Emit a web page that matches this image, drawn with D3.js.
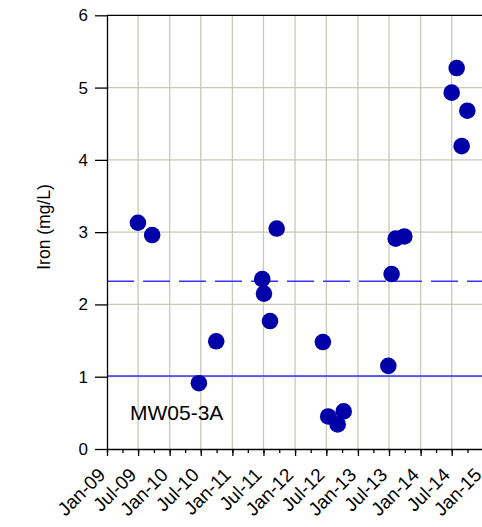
<!DOCTYPE html>
<html lang="en">
<head>
<meta charset="utf-8">
<title>MW05-3A Iron</title>
<script src="https://d3js.org/d3.v7.min.js"></script>
<style>
  body { margin: 0; background: #fff; }
  svg { font-family: "Liberation Sans", Arial, sans-serif; }
</style>
</head>
<body>
<div id="chart"></div>
<script>
// sample dates and iron concentrations (mg/L)
var sampleDates = ["2009-06-30", "2009-09-21", "2010-06-20", "2010-09-29",
  "2011-06-24", "2011-07-04", "2011-08-08", "2011-09-16", "2012-06-11",
  "2012-07-12", "2012-09-05", "2012-10-10", "2013-06-27", "2013-07-16",
  "2013-08-09", "2013-09-28", "2014-07-01", "2014-07-30", "2014-08-28",
  "2014-09-30"];
var ironValues = [3.13, 2.96, 0.91, 1.49,
  2.35, 2.15, 1.77, 3.05, 1.48,
  0.45, 0.34, 0.52, 1.15, 2.42,
  2.91, 2.94, 4.93, 5.27, 4.19,
  4.68];
var yTicks = [0, 1, 2, 3, 4, 5, 6];
var dashedLevel = 2.32;
var solidLevel = 1.01;
var wellName = "MW05-3A";

var W = 482, H = 527;
var plotLeft = 107, plotTop = 15.3, plotBottom = 449, plotRight = 483.3;

var parse = d3.timeParse("%Y-%m-%d");
var data = sampleDates.map(function(d, i) {
  return { date: parse(d), value: ironValues[i] };
});

var svg = d3.select("#chart").append("svg")
  .attr("width", W).attr("height", H);

var x = d3.scaleTime()
  .domain([new Date(2009, 0, 1), new Date(2015, 0, 1)])
  .range([plotLeft, plotRight]);
var y = d3.scaleLinear().domain([0, 6]).range([plotBottom, plotTop]);

var halfYears = d3.timeMonth.every(6).range(new Date(2009, 0, 1), new Date(2015, 0, 2));
var quarters = d3.timeMonth.every(3).range(new Date(2009, 0, 1), new Date(2015, 0, 2));

// grid
svg.append("g").selectAll("line")
  .data(halfYears.slice(1))
  .join("line")
  .attr("x1", function(d) { return x(d); }).attr("x2", function(d) { return x(d); })
  .attr("y1", plotTop).attr("y2", plotBottom)
  .attr("stroke", "#c8c8bd").attr("stroke-width", 1.3);
svg.append("g").selectAll("line")
  .data(yTicks.slice(1, -1))
  .join("line")
  .attr("x1", plotLeft).attr("x2", plotRight)
  .attr("y1", function(d) { return y(d); }).attr("y2", function(d) { return y(d); })
  .attr("stroke", "#c8c8bd").attr("stroke-width", 1.3);

// reference lines
svg.append("line")
  .attr("x1", plotLeft).attr("x2", plotRight)
  .attr("y1", y(dashedLevel)).attr("y2", y(dashedLevel))
  .attr("stroke", "#3535ff").attr("stroke-width", 1.5)
  .attr("stroke-dasharray", "27,9");
svg.append("line")
  .attr("x1", plotLeft).attr("x2", plotRight)
  .attr("y1", y(solidLevel)).attr("y2", y(solidLevel))
  .attr("stroke", "#3535ff").attr("stroke-width", 1.5);

// top frame
svg.append("line")
  .attr("x1", plotLeft).attr("x2", plotRight)
  .attr("y1", y(6)).attr("y2", y(6))
  .attr("stroke", "#000").attr("stroke-width", 1.3);

// y axis
var yAxis = svg.append("g")
  .attr("transform", "translate(" + plotLeft + ",0)")
  .call(d3.axisLeft(y).tickValues(yTicks).tickFormat(d3.format("d"))
    .tickSize(12).tickSizeOuter(0).tickPadding(7));
yAxis.attr("font-family", null);
yAxis.selectAll("text").attr("font-size", 17).attr("fill", "#000");
yAxis.selectAll("line, path").attr("stroke", "#000").attr("stroke-width", 1.3);

// x axis: minor then major ticks
var xMinor = svg.append("g")
  .attr("transform", "translate(0," + plotBottom + ")")
  .call(d3.axisBottom(x).tickValues(quarters).tickSize(4).tickSizeOuter(0).tickFormat(""));
xMinor.selectAll("line, path").attr("stroke", "#000").attr("stroke-width", 1.3);

var xAxis = svg.append("g")
  .attr("transform", "translate(0," + plotBottom + ")")
  .call(d3.axisBottom(x).tickValues(halfYears).tickSize(7).tickSizeOuter(0)
    .tickFormat(d3.timeFormat("%b-%y")));
xAxis.attr("font-family", null);
xAxis.select(".domain").remove();
xAxis.selectAll("line").attr("stroke", "#000").attr("stroke-width", 1.3);
xAxis.selectAll("text")
  .attr("font-size", 19).attr("fill", "#000")
  .attr("text-anchor", "end")
  .attr("y", 0).attr("dy", 0)
  .attr("transform", "translate(-1,27) rotate(-45)");

// y label
svg.append("text")
  .attr("transform", "translate(50,227) rotate(-90)")
  .attr("text-anchor", "middle")
  .attr("font-size", 17.5)
  .text("Iron (mg/L)");

// well label
svg.append("text")
  .attr("x", 130).attr("y", 420)
  .attr("font-size", 21)
  .text(wellName);

// points
svg.append("g").selectAll("circle")
  .data(data)
  .join("circle")
  .attr("cx", function(d) { return x(d.date); })
  .attr("cy", function(d) { return y(d.value); })
  .attr("r", 8.3)
  .attr("fill", "#0000a8");
</script>
</body>
</html>
